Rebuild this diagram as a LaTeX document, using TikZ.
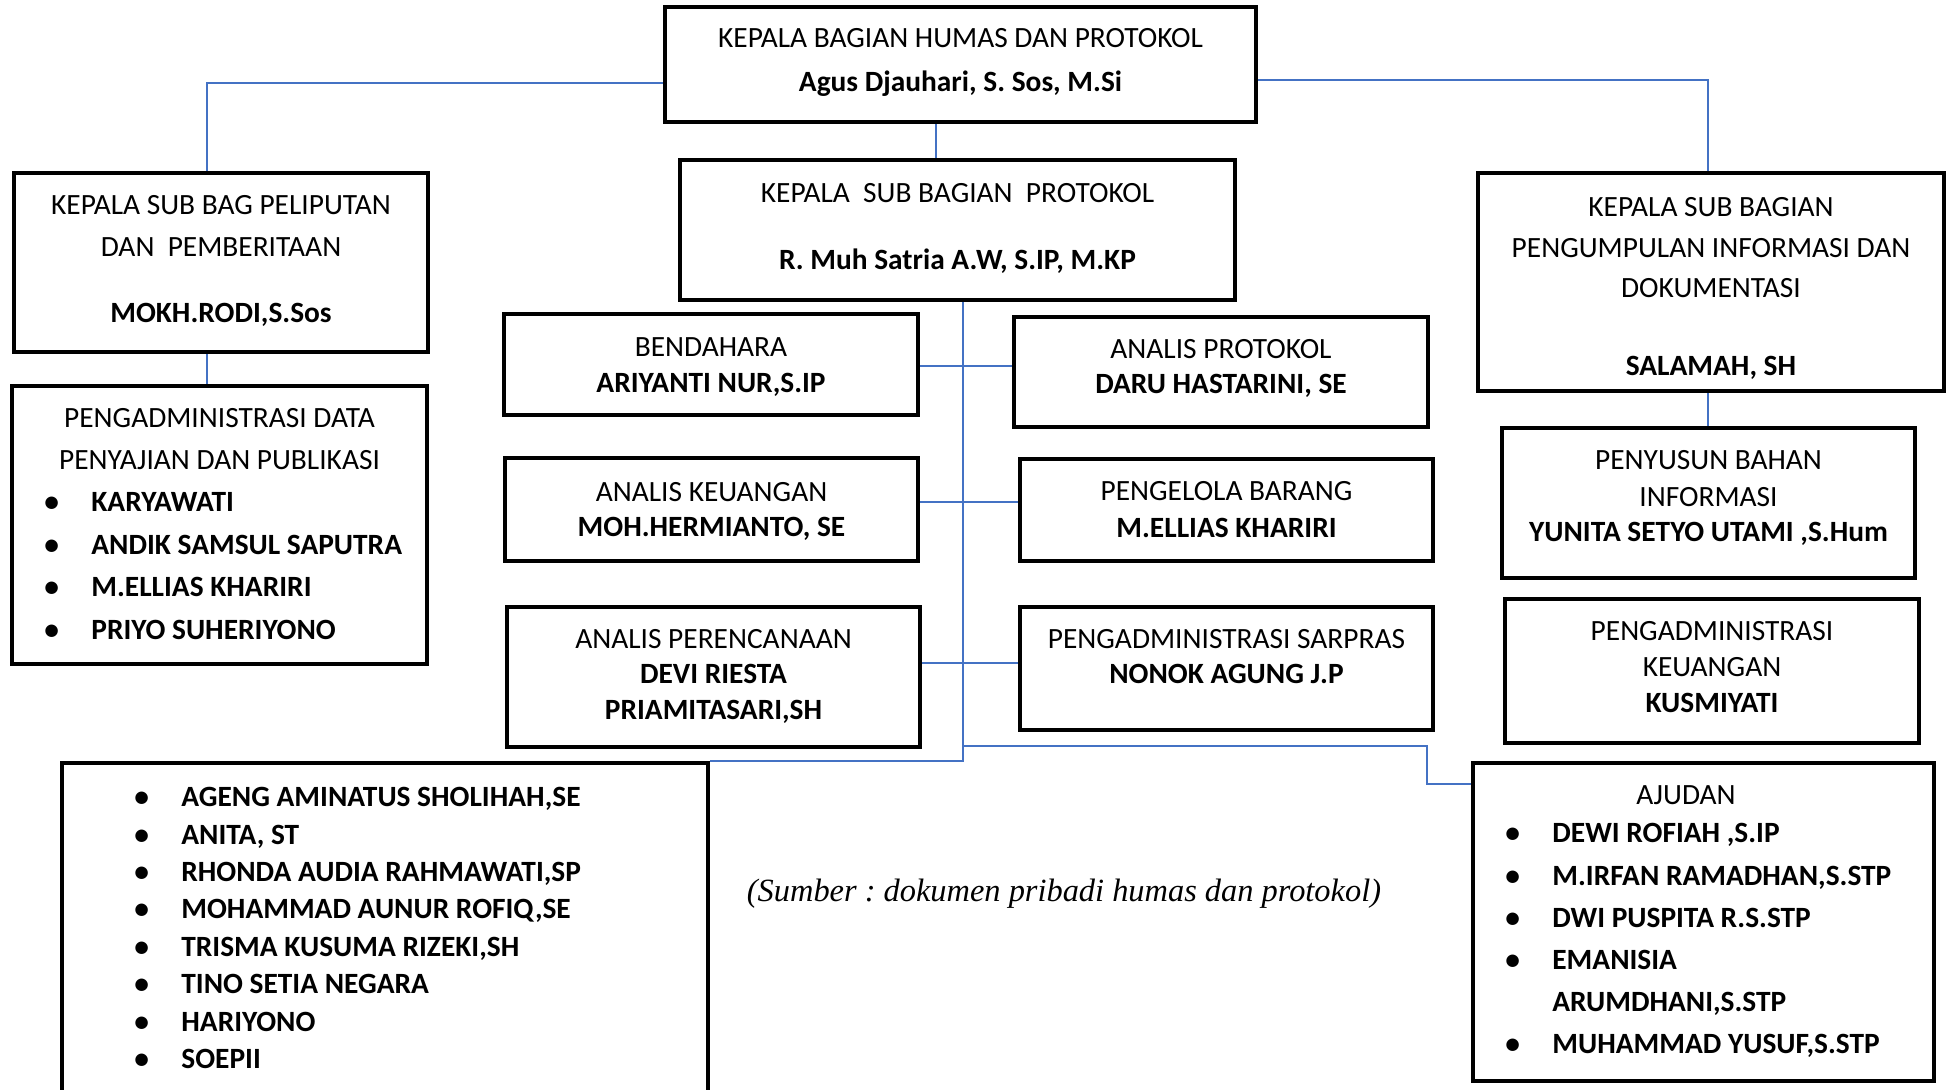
\documentclass[tikz,border=0pt]{standalone}
\usepackage{fontspec}
\setmainfont{Carlito}
\newfontfamily\sourcefont{Liberation Serif}
\usetikzlibrary{positioning}
\definecolor{lineblue}{RGB}{68,114,196}
\newcommand{\dotitem}{\makebox[23.5pt][l]{\textbullet}}
\frenchspacing

\begin{document}
\begin{tikzpicture}[
	x=0.5pt, y=-0.5pt,
	box/.style={ draw, line width=2.2pt, rectangle, inner sep=0pt },
	link/.style={ lineblue, line width=1pt },
	txt/.style={ font=\fontsize{14.7}{17}\selectfont, anchor=base, inner sep=0pt },
	nm/.style={ txt, font=\fontsize{14.7}{17}\selectfont\bfseries },
	itm/.style={ nm, anchor=base west }
]

\useasboundingbox (0,0) rectangle (1950,1090);

\node[box, minimum width=295.5pt, minimum height=57.5pt] (kabag) at (960.5,64.5) {};
\node[box, minimum width=207pt, minimum height=89.5pt] (peliputan) at (221,262.5) {};
\node[box, minimum width=207.5pt, minimum height=139pt] (dataadm) at (219.5,525) {};
\node[box, minimum width=277.5pt, minimum height=70pt] (protokol) at (957.5,230) {};
\node[box, minimum width=207pt, minimum height=50.5pt] (bendahara) at (711,364.5) {};
\node[box, minimum width=207pt, minimum height=55pt] (anprot) at (1221,372) {};
\node[box, minimum width=206.5pt, minimum height=51.5pt] (ankeu) at (711.5,509.5) {};
\node[box, minimum width=206.5pt, minimum height=51pt] (barang) at (1226.5,510) {};
\node[box, minimum width=206.5pt, minimum height=70pt] (perenc) at (713.5,677) {};
\node[box, minimum width=206.5pt, minimum height=61.5pt] (sarpras) at (1226.5,668.5) {};
\node[box, minimum width=233pt, minimum height=109pt] (infodok) at (1711,282) {};
\node[box, minimum width=206.5pt, minimum height=75pt] (penyusun) at (1708.5,503) {};
\node[box, minimum width=207pt, minimum height=72pt] (keuadm) at (1712,671) {};
\node[box, minimum width=323pt, minimum height=172pt] (staf) at (385,935) {};
\node[box, minimum width=230.5pt, minimum height=159pt] (ajudan) at (1703.5,922) {};

\draw[link] ([yshift=-9.25pt]kabag.west) -| ([xshift=-7pt]peliputan.north);
\draw[link] ([yshift=-7.75pt]kabag.east) -| ([xshift=-1.5pt]infodok.north);
\draw[link] ([xshift=-12.25pt]kabag.south) -- ([xshift=-12.25pt]kabag.south |- protokol.north);
\draw[link] ([xshift=-7pt]peliputan.south) -- ([xshift=-7pt]peliputan.south |- dataadm.north);
\draw[link] ([xshift=-1.5pt]infodok.south) -- ([xshift=-1.5pt]infodok.south |- penyusun.north);
\coordinate (spine) at ([xshift=2.75pt]protokol.south);
\draw[link] (spine) |- (staf.north east);
\draw[link] ([yshift=-0.75pt]bendahara.east) -- ([yshift=-0.75pt]bendahara.east -| anprot.west);
\draw[link] ([yshift=3.75pt]ankeu.east) -- ([yshift=3.75pt]ankeu.east -| barang.west);
\draw[link] ([yshift=7pt]perenc.east) -- ([yshift=7pt]perenc.east -| sarpras.west);
\coordinate (fork) at (963,746);
\coordinate (jog) at (1427,784);
\draw[link] (fork) -| (jog) -- (jog -| ajudan.west);

\node[txt] (kabag-t) at (960.5,47.5) {KEPALA BAGIAN HUMAS DAN PROTOKOL};
\node[nm] (kabag-n) at (960.5,91.5) {Agus Djauhari, S. Sos, M.Si};

\node[txt] (peliputan-t1) at (221,214.5) {KEPALA SUB BAG PELIPUTAN};
\node[txt] (peliputan-t2) at (221,256.5) {DAN\ \ PEMBERITAAN};
\node[nm] (peliputan-n) at (221,322.5) {MOKH.RODI,S.Sos};

\node[txt] (dataadm-t1) at (219.5,427.5) {PENGADMINISTRASI DATA};
\node[txt] (dataadm-t2) at (219.5,469.5) {PENYAJIAN DAN PUBLIKASI};
\node[itm] (dataadm-1) at (44,511.5) {\dotitem KARYAWATI};
\node[itm] (dataadm-2) at (44,554.5) {\dotitem ANDIK SAMSUL SAPUTRA};
\node[itm] (dataadm-3) at (44,596.5) {\dotitem M.ELLIAS KHARIRI};
\node[itm] (dataadm-4) at (44,639.5) {\dotitem PRIYO SUHERIYONO};

\node[txt] (protokol-t) at (957.5,202.5) {KEPALA\ \ SUB BAGIAN\ \ PROTOKOL};
\node[nm] (protokol-n) at (957.5,269.5) {R. Muh Satria A.W, S.IP, M.KP};

\node[txt] (bendahara-t) at (711,356.5) {BENDAHARA};
\node[nm] (bendahara-n) at (711,392.5) {ARIYANTI NUR,S.IP};

\node[txt] (anprot-t) at (1221,358.5) {ANALIS PROTOKOL};
\node[nm] (anprot-n) at (1221,393.5) {DARU HASTARINI, SE};

\node[txt] (ankeu-t) at (711.5,501.5) {ANALIS KEUANGAN};
\node[nm] (ankeu-n) at (711.5,536.5) {MOH.HERMIANTO, SE};

\node[txt] (barang-t) at (1226.5,500.5) {PENGELOLA BARANG};
\node[nm] (barang-n) at (1226.5,537.5) {M.ELLIAS KHARIRI};

\node[txt] (perenc-t) at (713.5,648.5) {ANALIS PERENCANAAN};
\node[nm] (perenc-n1) at (713.5,683.5) {DEVI RIESTA};
\node[nm] (perenc-n2) at (713.5,719.5) {PRIAMITASARI,SH};

\node[txt] (sarpras-t) at (1226.5,648.5) {PENGADMINISTRASI SARPRAS};
\node[nm] (sarpras-n) at (1226.5,683.5) {NONOK AGUNG J.P};

\node[txt] (infodok-t1) at (1711,216.5) {KEPALA SUB BAGIAN};
\node[txt] (infodok-t2) at (1711,257.5) {PENGUMPULAN INFORMASI DAN};
\node[txt] (infodok-t3) at (1711,297.5) {DOKUMENTASI};
\node[nm] (infodok-n) at (1711,375.5) {SALAMAH, SH};

\node[txt] (penyusun-t1) at (1708.5,469.5) {PENYUSUN BAHAN};
\node[txt] (penyusun-t2) at (1708.5,506.5) {INFORMASI};
\node[nm] (penyusun-n) at (1708.5,541.5) {YUNITA SETYO UTAMI ,S.Hum};

\node[txt] (keuadm-t1) at (1712,640.5) {PENGADMINISTRASI};
\node[txt] (keuadm-t2) at (1712,676.5) {KEUANGAN};
\node[nm] (keuadm-n) at (1712,712.5) {KUSMIYATI};

\node[itm] (staf-1) at (134,806.5) {\dotitem AGENG AMINATUS SHOLIHAH,SE};
\node[itm] (staf-2) at (134,844.5) {\dotitem ANITA, ST};
\node[itm] (staf-3) at (134,881.5) {\dotitem RHONDA AUDIA RAHMAWATI,SP};
\node[itm] (staf-4) at (134,918.5) {\dotitem MOHAMMAD AUNUR ROFIQ,SE};
\node[itm] (staf-5) at (134,956.5) {\dotitem TRISMA KUSUMA RIZEKI,SH};
\node[itm] (staf-6) at (134,993.5) {\dotitem TINO SETIA NEGARA};
\node[itm] (staf-7) at (134,1031.5) {\dotitem HARIYONO};
\node[itm] (staf-8) at (134,1068.5) {\dotitem SOEPII};

\node[txt] (ajudan-t) at (1686,804.5) {AJUDAN};
\node[itm] (ajudan-1) at (1505,842.5) {\dotitem DEWI ROFIAH ,S.IP};
\node[itm] (ajudan-2) at (1505,885.5) {\dotitem M.IRFAN RAMADHAN,S.STP};
\node[itm] (ajudan-3) at (1505,927.5) {\dotitem DWI PUSPITA R.S.STP};
\node[itm] (ajudan-4) at (1505,969.5) {\dotitem EMANISIA};
\node[itm] (ajudan-4b) at (1552,1011.5) {ARUMDHANI,S.STP};
\node[itm] (ajudan-5) at (1505,1053.5) {\dotitem MUHAMMAD YUSUF,S.STP};

\node[txt, font=\sourcefont\itshape\fontsize{16.2}{18}\selectfont] (sumber) at (1064,901) {(Sumber : dokumen pribadi humas dan protokol)};

\end{tikzpicture}
\end{document}
